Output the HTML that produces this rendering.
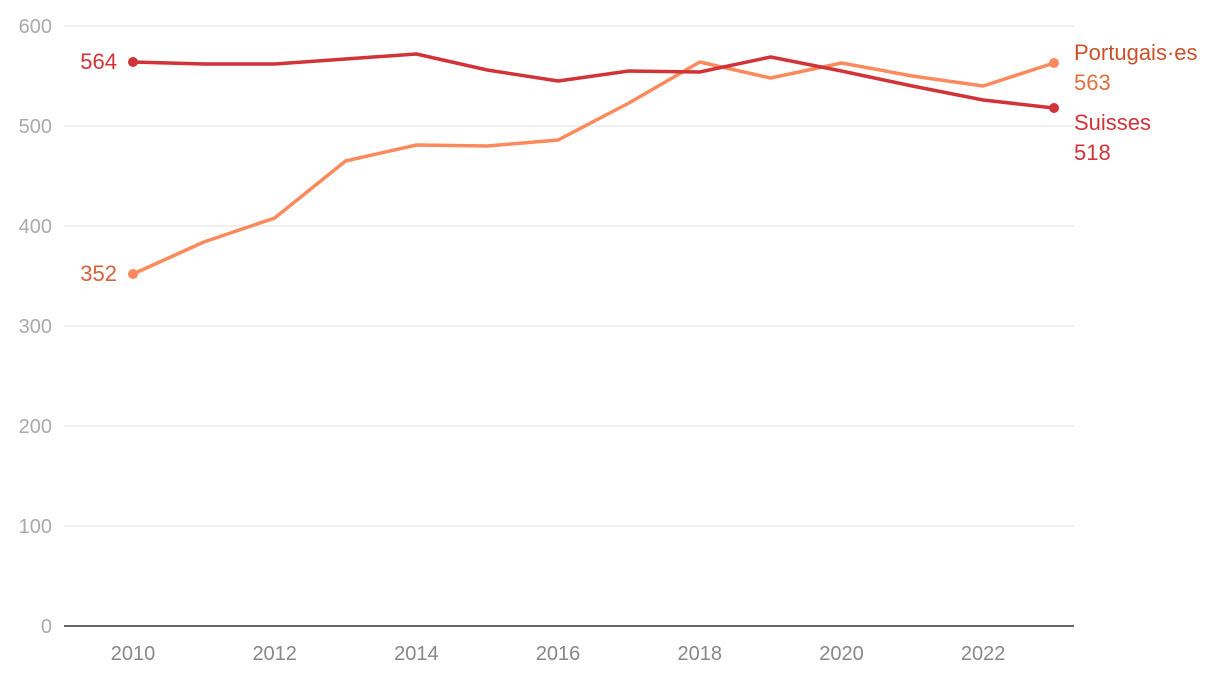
<!DOCTYPE html>
<html><head><meta charset="utf-8"><style>
body{margin:0;background:#fff;font-family:"Liberation Sans",sans-serif}
svg text{font-family:"Liberation Sans",sans-serif}
</style></head><body>
<svg width="1220" height="678" id="chart"></svg>
<script>
const years=[2010,2011,2012,2013,2014,2015,2016,2017,2018,2019,2020,2021,2022,2023];
const suisses=[564,562,562,567,572,556,545,555,554,569,555,540,526,518];
const portugais=[352,384,408,465,481,480,486,523,564,548,563,550,540,563];
const yTicks=[0,100,200,300,400,500,600];
const xTicks=[2010,2012,2014,2016,2018,2020,2022];
const ns="http://www.w3.org/2000/svg";
const svg=document.getElementById('chart');
const x=v=>133+(v-2010)*(1054-133)/13;
const y=v=>626-v*600/600;
function el(t,a,txt){const e=document.createElementNS(ns,t);for(const k in a)e.setAttribute(k,a[k]);if(txt!==undefined)e.textContent=txt;svg.appendChild(e);return e;}
yTicks.forEach(t=>{
  if(t>0){const g=el('line',{x1:64,x2:1074,y1:y(t),y2:y(t),stroke:'#e2e2e2','stroke-width':1});
  }
  const l=el('text',{x:52,y:y(t)+7,'text-anchor':'end','font-size':20,fill:'#aaa'},t);
  
});
const ax=el('line',{x1:64,x2:1074,y1:626,y2:626,stroke:'#333','stroke-width':1.5});

xTicks.forEach(t=>{
  const l=el('text',{x:x(t),y:660,'text-anchor':'middle','font-size':20,fill:'#888'},t);
  
});
function series(vals,color,name){
  const p=el('path',{d:vals.map((v,i)=>(i?'L':'M')+x(years[i])+','+y(v)).join(''),fill:'none',stroke:color,'stroke-width':3.5,'stroke-linejoin':'round'});
  
  [0,vals.length-1].forEach(i=>{
    const c=el('circle',{cx:x(years[i]),cy:y(vals[i]),r:5,fill:color});
    
  });
}
series(portugais,'#fc8a5c','portugais');
series(suisses,'#d13438','suisses');
function txt(s,xx,yy,color,anchor,name){const t=el('text',{x:xx,y:yy,'font-size':22,fill:color,'text-anchor':anchor},s);
  }
txt(suisses[0],117,y(suisses[0])+7,'#d13438','end','suisses-start-value');
txt(portugais[0],117,y(portugais[0])+7,'#d9603a','end','portugais-start-value');
txt('Portugais·es',1074,y(portugais[13])-3,'#c9512c','start','portugais-label');
txt(portugais[13],1074,y(portugais[13])+27,'#e0703f','start','portugais-end-value');
txt('Suisses',1074,y(suisses[13])+22,'#d13438','start','suisses-label');
txt(suisses[13],1074,y(suisses[13])+52,'#d13438','start','suisses-end-value');
</script>
</body></html>
